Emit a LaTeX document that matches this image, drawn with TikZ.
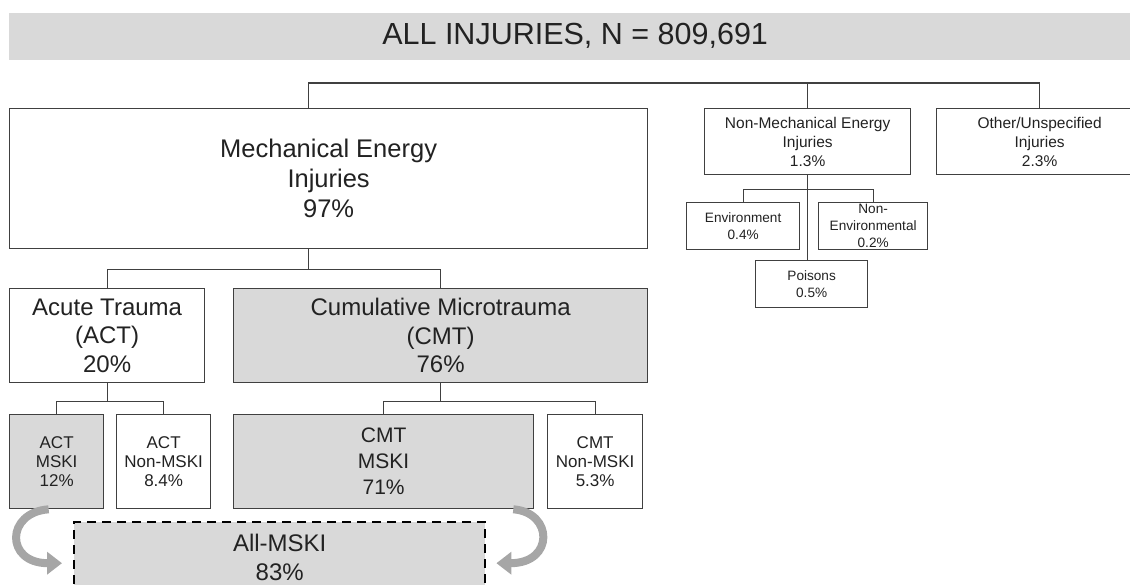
\documentclass[tikz,border=0pt]{standalone}
\usepackage{fontspec}
\setmainfont{Liberation Sans}
\usepackage{xcolor}
\usetikzlibrary{arrows.meta}

\definecolor{boxgrey}{HTML}{D9D9D9}
\definecolor{linegrey}{HTML}{404040}
\definecolor{arrowgrey}{HTML}{A6A6A6}
\definecolor{textgrey}{HTML}{222222}

\begin{document}
\begin{tikzpicture}[x=1pt, y=-1pt,
            box/.style = {draw=linegrey, line width=1.3pt, fill=white,
                        text=textgrey, inner sep=0pt,
                        anchor=north west, align=center},
            greybox/.style = {box, fill=boxgrey},
            link/.style = {draw=linegrey, line width=1.2pt},
            bendarrow/.style = {draw=arrowgrey, line width=8pt,
                        -{Triangle[length=15pt, width=22pt]}},
            fhuge/.style = {font=\fontsize{30.5pt}{36pt}\selectfont},
            fbig/.style = {font=\fontsize{25.5pt}{30pt}\selectfont},
            fmid/.style = {font=\fontsize{24pt}{28.5pt}\selectfont},
            fcmt/.style = {font=\fontsize{21pt}{26pt}\selectfont},
            fsmall/.style = {font=\fontsize{17pt}{19pt}\selectfont},
            fnote/.style = {font=\fontsize{15.5pt}{19pt}\selectfont},
            ftiny/.style = {font=\fontsize{13.6pt}{17pt}\selectfont}]
            \useasboundingbox (0,0) rectangle (1130,585);
            \clip (0,0) rectangle (1130,585);
            % Title bar
            \node[box, draw=none, fill=boxgrey, fhuge,
                minimum width=1133pt, minimum height=47pt] (title) at (8,12)
                {ALL INJURIES, N = 809,691};
            % First level
            \node[box, fbig, minimum width=638pt, minimum height=140pt] (mech) at (9,108)
                {Mechanical Energy\\Injuries\\97\%};
            \node[box, fnote, minimum width=206pt, minimum height=66pt] (nonmech) at (704,108)
                {Non-Mechanical Energy\\Injuries\\1.3\%};
            \node[box, fnote, minimum width=206pt, minimum height=66pt] (other) at (936,108)
                {Other/Unspecified\\Injuries\\2.3\%};
            % Non-mechanical branches
            \node[box, ftiny, minimum width=113pt, minimum height=47pt] (env) at (686,202)
                {Environment\\0.4\%};
            \node[box, ftiny, minimum width=109pt, minimum height=47pt] (nonenv) at (818,202)
                {Non-\\Environmental\\0.2\%};
            \node[box, ftiny, minimum width=112pt, minimum height=47pt] (poison) at (755,260)
                {Poisons\\0.5\%};
            % Second level
            \node[box, fmid, minimum width=195pt, minimum height=94pt] (act) at (9,288)
                {Acute Trauma\\(ACT)\\20\%};
            \node[greybox, fmid, minimum width=414pt, minimum height=94pt] (cmt) at (233,288)
                {Cumulative Microtrauma\\(CMT)\\76\%};
            % Third level
            \node[greybox, fsmall, minimum width=94pt, minimum height=94pt] (actmski) at (9,414)
                {ACT\\MSKI\\12\%};
            \node[box, fsmall, minimum width=94pt, minimum height=94pt] (actnon) at (116,414)
                {ACT\\Non-MSKI\\8.4\%};
            \node[greybox, fcmt, minimum width=300pt, minimum height=94pt] (cmtmski) at (233,414)
                {CMT\\MSKI\\71\%};
            \node[box, fsmall, minimum width=95pt, minimum height=94pt] (cmtnon) at (547,414)
                {CMT\\Non-MSKI\\5.3\%};
            % Combined MSKI
            \node[greybox, fmid, draw=black, line width=2.4pt, dash pattern=on 9pt off 6pt,
                minimum width=411pt, minimum height=70pt] (allmski) at (73,521)
                {All-MSKI\\83\%};
            % Tree connectors
            \draw[link] ([xshift=-20pt]mech.north) -- ++(0,-25) coordinate (tj) -| (other.north);
            \draw[link] (nonmech.north) -- (nonmech.north |- tj);
            \draw[link] (nonmech.south) -- ++(0,14) coordinate (nj) -- (nonmech.south |- poison.north);
            \draw[link] (env.north) |- (nj) -| (nonenv.north);
            \draw[link] ([xshift=-20pt]mech.south) -- ++(0,20) coordinate (mj);
            \draw[link] (act.north) |- (mj) -| (cmt.north);
            \draw[link] (act.south) -- ++(0,18) coordinate (aj);
            \draw[link] (actmski.north) |- (aj) -| (actnon.north);
            \draw[link] (cmt.south) -- ++(0,18) coordinate (cj);
            \draw[link] (cmtmski.north) |- (cj) -| (cmtnon.north);
            % Curved arrows into All-MSKI
            \draw[bendarrow] ([xshift=-8pt]actmski.south)
                .. controls +(-43,3) and +(-57,0) .. ([xshift=-11pt,yshift=-6pt]allmski.west);
            \draw[bendarrow] ([xshift=-21pt]cmtmski.south east)
                .. controls +(40,3) and +(58,0) .. ([xshift=10pt,yshift=-6pt]allmski.east);
        \end{tikzpicture}
\end{document}
